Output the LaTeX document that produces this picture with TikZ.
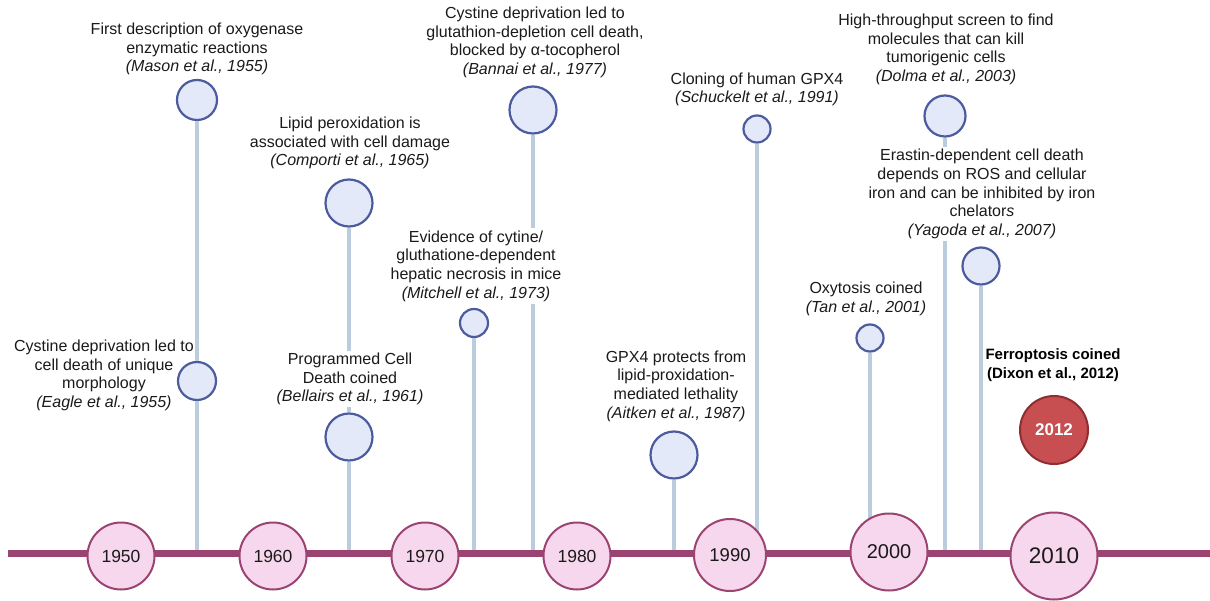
\documentclass[tikz,border=0pt]{standalone}
\usepackage{fontspec}
\setmainfont{Liberation Sans}
\definecolor{plum}{HTML}{9C4471}
\definecolor{yrf}{HTML}{F7D7EE}
\definecolor{evf}{HTML}{E4E9F9}
\definecolor{evb}{HTML}{4B5B9E}
\definecolor{stemc}{HTML}{BCCCDF}
\definecolor{redf}{HTML}{C74E51}
\definecolor{redb}{HTML}{8F2D30}
\definecolor{txt}{HTML}{1A1A1A}
\begin{document}
\begin{tikzpicture}[x=1pt,y=-1pt,
  tline/.style={line width=7pt, color=plum},
  stemline/.style={line width=3.3pt, color=stemc},
  ev/.style={circle, draw=evb, fill=evf, line width=2.2pt, minimum size=#1, inner sep=0pt},
  yr/.style={circle, draw=plum, fill=yrf, line width=2pt, minimum size=#1, inner sep=0pt, text=txt},
  lab/.style={align=center, fill=white, inner sep=2pt, text=txt, font=\fontsize{16}{18.7}\selectfont}]
\useasboundingbox (0,0) rectangle (1210,601);
% event circles
\node[ev=40] (mason) at (197,100) {};
\node[ev=38] (eagle) at (197,381) {};
\node[ev=47] (comporti) at (349,203) {};
\node[ev=47] (bellairs) at (349,437) {};
\node[ev=28] (mitchell) at (474,323) {};
\node[ev=47] (bannai) at (533,110) {};
\node[ev=47] (aitken) at (674,455) {};
\node[ev=27] (schuckelt) at (757,129) {};
\node[ev=27] (tan) at (870,338) {};
\node[ev=41] (dolma) at (945,116) {};
\node[ev=37] (yagoda) at (981,266) {};
% base coordinates
\coordinate (b1) at (197,553);
\coordinate (b2) at (349,553);
\coordinate (b3) at (474,553);
\coordinate (b4) at (533,553);
\coordinate (b5) at (674,553);
\coordinate (b6) at (757,553);
\coordinate (b7) at (870,553);
\coordinate (b8) at (945,553);
\coordinate (b9) at (981,553);
% stems
\draw[stemline] (mason.south) -- (eagle.north);
\draw[stemline] (eagle.south) -- (b1);
\draw[stemline] (comporti.south) -- (bellairs.north);
\draw[stemline] (bellairs.south) -- (b2);
\draw[stemline] (mitchell.south) -- (b3);
\draw[stemline] (bannai.south) -- (b4);
\draw[stemline] (aitken.south) -- (b5);
\draw[stemline] (schuckelt.south) -- (b6);
\draw[stemline] (tan.south) -- (b7);
\draw[stemline] (dolma.south) -- (b8);
\draw[stemline] (yagoda.south) -- (b9);
% timeline
\coordinate (tlA) at (8,553);
\coordinate (tlB) at (1210,553);
\draw[tline] (tlA) -- (tlB);
% year circles
\node[yr=67, font=\fontsize{17.5}{20}\selectfont] (y1950) at (121,556) {1950};
\node[yr=67, font=\fontsize{17.5}{20}\selectfont] (y1960) at (273,556) {1960};
\node[yr=67, font=\fontsize{17.5}{20}\selectfont] (y1970) at (425,556) {1970};
\node[yr=67, font=\fontsize{17.5}{20}\selectfont] (y1980) at (577,556) {1980};
\node[yr=72, font=\fontsize{18.5}{20}\selectfont] (y1990) at (730,555) {1990};
\node[yr=77, font=\fontsize{20}{22}\selectfont] (y2000) at (889,552) {2000};
\node[yr=87, font=\fontsize{22.5}{24}\selectfont] (y2010) at (1054,556) {2010};
% 2012
\node[circle, draw=redb, fill=redf, line width=2pt, minimum size=68, inner sep=0pt, text=white, font=\fontsize{17}{20}\selectfont\bfseries] (y2012) at (1054,430) {2012};
% labels
\node[lab, fill=none] (tmason) at (197,49) {First description of oxygenase\\enzymatic reactions\\\textit{(Mason et al., 1955)}};
\node[lab, fill=none] (teagle) at (104,375.5) {Cystine deprivation led to\\cell death of unique\\morphology\\\textit{(Eagle et al., 1955)}};
\node[lab, fill=none] (tcomporti) at (350,143) {Lipid peroxidation is\\associated with cell damage\\\textit{(Comporti et al., 1965)}};
\node[lab] (tbellairs) at (350,379) {Programmed Cell\\Death coined\\\textit{(Bellairs et al., 1961)}};
\node[lab] (tmitchell) at (476,266) {Evidence of cytine/\\gluthatione-dependent\\hepatic necrosis in mice\\\textit{(Mitchell et al., 1973)}};
\node[lab, fill=none] (tbannai) at (535,42.5) {Cystine deprivation led to\\glutathion-depletion cell death,\\blocked by α-tocopherol\\\textit{(Bannai et al., 1977)}};
\node[lab, fill=none] (taitken) at (676,386) {GPX4 protects from\\lipid-proxidation-\\mediated lethality\\\textit{(Aitken et al., 1987)}};
\node[lab, fill=none] (tschuckelt) at (757,89.5) {Cloning of human GPX4\\\textit{(Schuckelt et al., 1991)}};
\node[lab, fill=none] (ttan) at (866,299) {Oxytosis coined\\\textit{(Tan et al., 2001)}};
\node[lab, fill=none] (tdolma) at (946,49.5) {High-throughput screen to find\\molecules that can kill\\tumorigenic cells\\\textit{(Dolma et al., 2003)}};
\node[lab] (tyagoda) at (982,194) {Erastin-dependent cell death\\depends on ROS and cellular\\iron and can be inhibited by iron\\chelator\textit{s}\\\textit{(Yagoda et al., 2007)}};
\node[lab, fill=none, font=\fontsize{15}{19.5}\selectfont\bfseries, text=black] (tdixon) at (1053,365) {Ferroptosis coined\\(Dixon et al., 2012)};
\end{tikzpicture}
\end{document}
